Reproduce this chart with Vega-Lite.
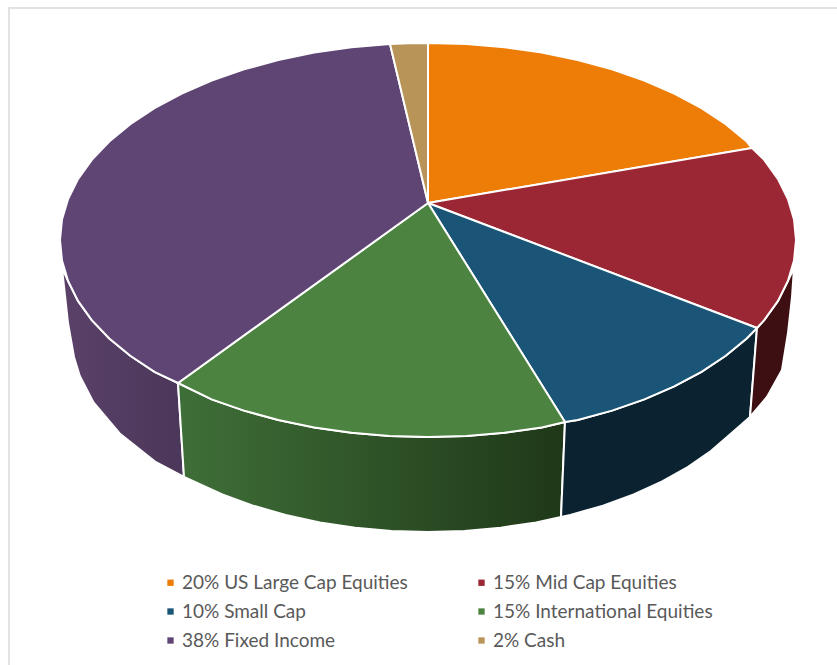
{
"$schema":"https://vega.github.io/schema/vega-lite/v6.json",
"width":837,"height":665,"autosize":"none","padding":0,"background":"white",
"config":{"view":{"stroke":null}},
"datasets":{
"frame":[{"i":0,"x":9,"y":665},{"i":1,"x":9,"y":8},{"i":2,"x":837,"y":8}],
"walls":[
{"s":"purple","i":0,"x":178,"y":383},{"s":"purple","i":1,"x":154.5,"y":371.8},{"s":"purple","i":2,"x":130.3,"y":355.8},{"s":"purple","i":3,"x":109.3,"y":338.5},{"s":"purple","i":4,"x":91.8,"y":320.1},{"s":"purple","i":5,"x":78,"y":300.9},{"s":"purple","i":6,"x":68.1,"y":281},{"s":"purple","i":7,"x":62,"y":268},{"s":"purple","i":8,"x":68,"y":323},{"s":"purple","i":9,"x":71,"y":340},{"s":"purple","i":10,"x":74,"y":357},{"s":"purple","i":11,"x":79.8,"y":376},{"s":"purple","i":12,"x":93.5,"y":402.4},{"s":"purple","i":13,"x":119.7,"y":433.5},{"s":"purple","i":14,"x":155,"y":461.6},{"s":"purple","i":15,"x":184,"y":477},{"s":"purple","i":16,"x":178,"y":383},
{"s":"green","i":0,"x":178,"y":383},{"s":"green","i":1,"x":211.7,"y":399.4},{"s":"green","i":2,"x":244,"y":410.6},{"s":"green","i":3,"x":278.3,"y":420},{"s":"green","i":4,"x":314.3,"y":427.4},{"s":"green","i":5,"x":351.5,"y":432.7},{"s":"green","i":6,"x":389.5,"y":435.9},{"s":"green","i":7,"x":428,"y":437},{"s":"green","i":8,"x":466.5,"y":435.9},{"s":"green","i":9,"x":504.5,"y":432.7},{"s":"green","i":10,"x":541.7,"y":427.4},{"s":"green","i":11,"x":565,"y":422},{"s":"green","i":12,"x":561,"y":517},{"s":"green","i":13,"x":536.2,"y":522.4},{"s":"green","i":14,"x":500.8,"y":527.7},{"s":"green","i":15,"x":464.6,"y":530.9},{"s":"green","i":16,"x":428,"y":532},{"s":"green","i":17,"x":391.4,"y":530.9},{"s":"green","i":18,"x":355.2,"y":527.7},{"s":"green","i":19,"x":319.8,"y":522.4},{"s":"green","i":20,"x":285.7,"y":515},{"s":"green","i":21,"x":253,"y":505.6},{"s":"green","i":22,"x":222.3,"y":494.4},{"s":"green","i":23,"x":193.8,"y":481.4},{"s":"green","i":24,"x":184,"y":477},{"s":"green","i":25,"x":178,"y":383},
{"s":"blue","i":0,"x":565,"y":422},{"s":"blue","i":1,"x":577.7,"y":420},{"s":"blue","i":2,"x":612,"y":410.6},{"s":"blue","i":3,"x":644.3,"y":399.4},{"s":"blue","i":4,"x":674.2,"y":386.4},{"s":"blue","i":5,"x":701.5,"y":371.8},{"s":"blue","i":6,"x":725.7,"y":355.8},{"s":"blue","i":7,"x":746.7,"y":338.5},{"s":"blue","i":8,"x":757,"y":328},{"s":"blue","i":9,"x":750,"y":417},{"s":"blue","i":10,"x":731.1,"y":433.5},{"s":"blue","i":11,"x":711.2,"y":450.8},{"s":"blue","i":12,"x":688.1,"y":466.8},{"s":"blue","i":13,"x":662.2,"y":481.4},{"s":"blue","i":14,"x":633.7,"y":494.4},{"s":"blue","i":15,"x":603,"y":505.6},{"s":"blue","i":16,"x":570.3,"y":515},{"s":"blue","i":17,"x":561,"y":517},{"s":"blue","i":18,"x":565,"y":422},
{"s":"red","i":0,"x":757,"y":328},{"s":"red","i":1,"x":764.2,"y":320.1},{"s":"red","i":2,"x":778,"y":300.9},{"s":"red","i":3,"x":787.9,"y":281},{"s":"red","i":4,"x":794,"y":268},{"s":"red","i":5,"x":792,"y":297},{"s":"red","i":6,"x":788,"y":333},{"s":"red","i":7,"x":782,"y":370},{"s":"red","i":8,"x":767,"y":397},{"s":"red","i":9,"x":750,"y":417},{"s":"red","i":10,"x":757,"y":328}
],
"top":[
{"s":"20% US Large Cap Equities","i":0,"x":428,"y":203},{"s":"20% US Large Cap Equities","i":1,"x":428,"y":43},{"s":"20% US Large Cap Equities","i":2,"x":466.5,"y":44.1},{"s":"20% US Large Cap Equities","i":3,"x":504.5,"y":47.3},{"s":"20% US Large Cap Equities","i":4,"x":541.7,"y":52.6},{"s":"20% US Large Cap Equities","i":5,"x":577.7,"y":60},{"s":"20% US Large Cap Equities","i":6,"x":612,"y":69.4},{"s":"20% US Large Cap Equities","i":7,"x":644.3,"y":80.6},{"s":"20% US Large Cap Equities","i":8,"x":674.2,"y":93.6},{"s":"20% US Large Cap Equities","i":9,"x":701.5,"y":108.2},{"s":"20% US Large Cap Equities","i":10,"x":725.7,"y":124.2},{"s":"20% US Large Cap Equities","i":11,"x":746.7,"y":141.5},{"s":"20% US Large Cap Equities","i":12,"x":752,"y":148},{"s":"20% US Large Cap Equities","i":13,"x":428,"y":203},
{"s":"15% Mid Cap Equities","i":0,"x":428,"y":203},{"s":"15% Mid Cap Equities","i":1,"x":752,"y":148},{"s":"15% Mid Cap Equities","i":2,"x":764.2,"y":159.9},{"s":"15% Mid Cap Equities","i":3,"x":778,"y":179.1},{"s":"15% Mid Cap Equities","i":4,"x":787.9,"y":199},{"s":"15% Mid Cap Equities","i":5,"x":794,"y":219.4},{"s":"15% Mid Cap Equities","i":6,"x":796,"y":240},{"s":"15% Mid Cap Equities","i":7,"x":794,"y":260.6},{"s":"15% Mid Cap Equities","i":8,"x":787.9,"y":281},{"s":"15% Mid Cap Equities","i":9,"x":778,"y":300.9},{"s":"15% Mid Cap Equities","i":10,"x":764.2,"y":320.1},{"s":"15% Mid Cap Equities","i":11,"x":757,"y":328},{"s":"15% Mid Cap Equities","i":12,"x":428,"y":203},
{"s":"10% Small Cap","i":0,"x":428,"y":203},{"s":"10% Small Cap","i":1,"x":757,"y":328},{"s":"10% Small Cap","i":2,"x":746.7,"y":338.5},{"s":"10% Small Cap","i":3,"x":725.7,"y":355.8},{"s":"10% Small Cap","i":4,"x":701.5,"y":371.8},{"s":"10% Small Cap","i":5,"x":674.2,"y":386.4},{"s":"10% Small Cap","i":6,"x":644.3,"y":399.4},{"s":"10% Small Cap","i":7,"x":612,"y":410.6},{"s":"10% Small Cap","i":8,"x":577.7,"y":420},{"s":"10% Small Cap","i":9,"x":565,"y":422},{"s":"10% Small Cap","i":10,"x":428,"y":203},
{"s":"15% International Equities","i":0,"x":428,"y":203},{"s":"15% International Equities","i":1,"x":565,"y":422},{"s":"15% International Equities","i":2,"x":541.7,"y":427.4},{"s":"15% International Equities","i":3,"x":504.5,"y":432.7},{"s":"15% International Equities","i":4,"x":466.5,"y":435.9},{"s":"15% International Equities","i":5,"x":428,"y":437},{"s":"15% International Equities","i":6,"x":389.5,"y":435.9},{"s":"15% International Equities","i":7,"x":351.5,"y":432.7},{"s":"15% International Equities","i":8,"x":314.3,"y":427.4},{"s":"15% International Equities","i":9,"x":278.3,"y":420},{"s":"15% International Equities","i":10,"x":244,"y":410.6},{"s":"15% International Equities","i":11,"x":211.7,"y":399.4},{"s":"15% International Equities","i":12,"x":178,"y":383},{"s":"15% International Equities","i":13,"x":428,"y":203},
{"s":"38% Fixed Income","i":0,"x":428,"y":203},{"s":"38% Fixed Income","i":1,"x":178,"y":383},{"s":"38% Fixed Income","i":2,"x":154.5,"y":371.8},{"s":"38% Fixed Income","i":3,"x":130.3,"y":355.8},{"s":"38% Fixed Income","i":4,"x":109.3,"y":338.5},{"s":"38% Fixed Income","i":5,"x":91.8,"y":320.1},{"s":"38% Fixed Income","i":6,"x":78,"y":300.9},{"s":"38% Fixed Income","i":7,"x":68.1,"y":281},{"s":"38% Fixed Income","i":8,"x":62,"y":260.6},{"s":"38% Fixed Income","i":9,"x":60,"y":240},{"s":"38% Fixed Income","i":10,"x":62,"y":219.4},{"s":"38% Fixed Income","i":11,"x":68.1,"y":199},{"s":"38% Fixed Income","i":12,"x":78,"y":179.1},{"s":"38% Fixed Income","i":13,"x":91.8,"y":159.9},{"s":"38% Fixed Income","i":14,"x":109.3,"y":141.5},{"s":"38% Fixed Income","i":15,"x":130.3,"y":124.2},{"s":"38% Fixed Income","i":16,"x":154.5,"y":108.2},{"s":"38% Fixed Income","i":17,"x":181.8,"y":93.6},{"s":"38% Fixed Income","i":18,"x":211.7,"y":80.6},{"s":"38% Fixed Income","i":19,"x":244,"y":69.4},{"s":"38% Fixed Income","i":20,"x":278.3,"y":60},{"s":"38% Fixed Income","i":21,"x":314.3,"y":52.6},{"s":"38% Fixed Income","i":22,"x":351.5,"y":47.3},{"s":"38% Fixed Income","i":23,"x":390,"y":44},{"s":"38% Fixed Income","i":24,"x":428,"y":203},
{"s":"2% Cash","i":0,"x":428,"y":203},{"s":"2% Cash","i":1,"x":390,"y":44},{"s":"2% Cash","i":2,"x":409,"y":43.3},{"s":"2% Cash","i":3,"x":428,"y":43},{"s":"2% Cash","i":4,"x":428,"y":203}
]},
"encoding":{
"x":{"field":"x","type":"quantitative","scale":{"domain":[0,837]},"axis":null},
"y":{"field":"y","type":"quantitative","scale":{"domain":[0,665],"reverse":true},"axis":null},
"order":{"field":"i","type":"quantitative"}
},
"layer":[
{"data":{"name":"frame"},"mark":{"type":"line","stroke":"#e2e2e2","strokeWidth":2}},
{"data":{"name":"walls"},"transform":[{"filter":"datum.s==='purple'"}],"mark":{"type":"line","stroke":"white","strokeWidth":2,"fill":{"gradient":"linear","x1":0,"y1":0,"x2":1,"y2":0,"stops":[{"offset":0,"color":"#5a4168"},{"offset":1,"color":"#4b3759"}]}}},
{"data":{"name":"walls"},"transform":[{"filter":"datum.s==='green'"}],"mark":{"type":"line","stroke":"white","strokeWidth":2,"fill":{"gradient":"linear","x1":0,"y1":0,"x2":1,"y2":0,"stops":[{"offset":0,"color":"#3f6f38"},{"offset":1,"color":"#1f3818"}]}}},
{"data":{"name":"walls"},"transform":[{"filter":"datum.s==='blue'"}],"mark":{"type":"line","stroke":"white","strokeWidth":2,"fill":"#0b2331"}},
{"data":{"name":"walls"},"transform":[{"filter":"datum.s==='red'"}],"mark":{"type":"line","stroke":"white","strokeWidth":2,"fill":"#3d0f13"}},
{"data":{"name":"top"},"mark":{"type":"line","stroke":"white","strokeWidth":2},
"encoding":{"fill":{"field":"s","type":"nominal","scale":{"domain":["20% US Large Cap Equities","15% Mid Cap Equities","10% Small Cap","15% International Equities","38% Fixed Income","2% Cash"],"range":["#ED7D07","#9C2734","#1A5577","#4C8340","#5F4573","#B99458"]},
"legend":{"title":null,"orient":"none","direction":"horizontal","legendX":161,"legendY":573,"columns":2,"symbolType":"square","symbolSize":40,"symbolStrokeWidth":0,"labelFont":"Lato","labelFontSize":19,"labelColor":"#595959","labelOffset":2,"rowPadding":9,"columnPadding":64,"labelLimit":300}}}}
]
}
